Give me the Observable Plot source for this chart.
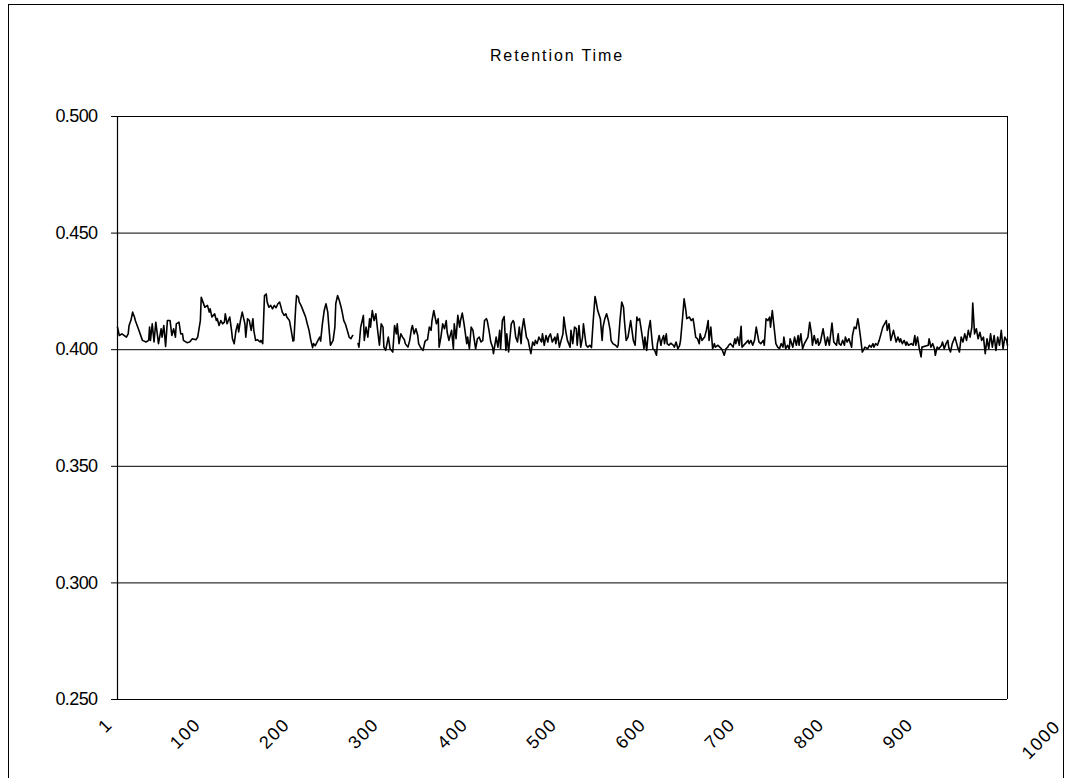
<!DOCTYPE html>
<html>
<head>
<meta charset="utf-8">
<script src="https://cdn.jsdelivr.net/npm/d3@7"></script>
<script src="https://cdn.jsdelivr.net/npm/@observablehq/plot@0.6"></script>
<style>
  html, body { margin: 0; padding: 0; background: #fff; }
  #wrap { position: relative; width: 1071px; height: 778px; overflow: hidden; font-family: "Liberation Sans", Arial, sans-serif; }
  #frame { position: absolute; left: 8px; top: 4px; width: 1056px; height: 900px; border: 1px solid #000; box-sizing: border-box; }
  #title { position: absolute; left: 0; width: 1114px; top: 47px; text-align: center; font-size: 16px; letter-spacing: 1.9px; color: #000; }
  #chart { position: absolute; left: 0; top: 0; }
  g[aria-label="x-axis tick label"] text { letter-spacing: 1.5px; }
  g[aria-label="y-axis tick label"] text { letter-spacing: -0.6px; }
</style>
</head>
<body>
<div id="wrap">
  <div id="frame"></div>
  <div id="title">Retention Time</div>
  <div id="chart"></div>
</div>
<script>
const xTicks = [1, 100, 200, 300, 400, 500, 600, 700, 800, 900];
const xLastTick = [1000];
const yTicks = [0.25, 0.30, 0.35, 0.40, 0.45, 0.50];

const sampleIndex = [
1,3,6,11,13,14,16,18,20,21,25,29,33,36,37,38,40,42,44,47,50,51,53,55,57,60,62,64,66,67,70,72,74,75,79,82,85,89,91,94,95,97,99,102,
104,105,107,110,112,113,115,117,119,121,122,124,127,129,130,132,134,136,137,139,141,144,145,147,149,151,153,154,156,158,161,162,164,166,168,169,171,173,175,177,179,181,183,184,186,188,190,191,194,196,198,199,201,202,
204,205,207,210,212,214,216,218,220,221,223,226,228,229,231,233,235,237,238,240,243,245,246,248,250,252,253,255,257,260,261,263,265,267,271,272,274,277,278,280,282,284,285,287,289,291,293,295,297,299,300,302,
305,307,310,312,314,315,317,319,321,323,324,327,329,331,332,334,336,338,339,341,344,346,347,349,351,353,354,356,359,361,362,364,366,368,370,371,373,376,378,379,381,383,385,386,388,390,393,394,396,398,400,401,403,
405,407,409,411,413,415,416,418,420,422,423,426,428,430,431,433,435,437,438,440,443,445,446,448,450,452,454,455,457,460,462,463,465,467,469,470,472,474,477,478,480,482,484,485,487,489,492,493,495,497,499,501,502,504,
506,509,510,512,514,516,517,519,521,523,524,527,529,531,533,535,537,538,540,543,545,546,548,550,552,554,555,557,560,562,563,565,567,569,570,572,574,577,578,580,582,584,585,587,589,592,593,595,597,599,601,602,604,606,
607,609,611,612,614,615,617,618,620,622,625,626,628,630,632,633,635,637,639,640,643,645,647,648,650,652,654,655,657,660,662,664,665,667,669,671,672,675,677,679,680,682,684,686,687,689,692,694,695,697,699,701,702,
709,710,712,714,716,718,720,721,723,726,727,729,731,733,734,736,738,740,742,744,746,748,749,751,753,755,756,759,761,763,765,766,768,770,772,773,776,778,780,781,783,785,787,788,790,793,795,796,798,800,802,803,805,808,
810,811,813,815,817,818,820,822,825,826,828,830,832,833,835,837,839,840,843,845,847,849,850,852,854,856,858,860,862,864,865,867,869,871,872,875,877,879,880,882,884,886,887,889,892,894,896,897,899,901,903,904,
911,912,914,916,918,919,921,923,926,927,929,931,933,934,936,938,941,942,944,946,
948,950,952,954,956,958,960,961,963,965,967,969,971,973,975,977,979,981,983,985,987,989,991,993,995,997,999,1000
];

const retention = [
.4097,.4061,.4068,.4054,.4068,.4104,.4125,.4161,.4140,.4125,.4083,.4040,.4033,.4040,.4097,.4040,.4111,.4033,.4118,.4026,.4090,.4054,.4104,.4014,.4125,.4125,.4061,.4090,.4054,.4111,.4118,.4068,.4068,.4040,.4030,.4033,.4047,.4043,.4054,.4125,.4225,.4204,.4182,.4190,
.4161,.4175,.4140,.4154,.4125,.4133,.4104,.4125,.4111,.4118,.4154,.4111,.4140,.4083,.4047,.4026,.4083,.4111,.4076,.4125,.4161,.4111,.4054,.4133,.4125,.4083,.4133,.4083,.4040,.4043,.4033,.4040,.4026,.4232,.4239,.4204,.4182,.4190,.4175,.4190,.4180,.4197,.4204,.4190,.4161,.4147,.4154,.4140,.4125,.4083,.4037,.4040,.4182,.4232,
.4225,.4204,.4190,.4161,.4142,.4111,.4083,.4040,.4009,.4026,.4017,.4040,.4054,.4037,.4111,.4168,.4197,.4161,.4111,.4019,.4040,.4097,.4197,.4232,.4211,.4182,.4165,.4125,.4108,.4068,.4054,.4047,.4061,NaN,.4026,.4011,.4097,.4147,.4040,.4097,.4054,.4133,.4097,.4168,.4125,.4154,.4083,.4019,.4111,.4097,.4011,.3997,
.4054,.4004,.3990,.4104,.4068,.4111,.4026,.4068,.4054,.4043,.4026,.4011,.4040,.4090,.4104,.4068,.4090,.4061,.4026,.4011,.3997,.4033,.4040,.4043,.4097,.4083,.4125,.4168,.4111,.4133,.4011,.4054,.4111,.4090,.4125,.4076,.4040,.4083,.4004,.4111,.4047,.4147,.4097,.4125,.4157,.4111,.4026,.4054,.4004,.4097,.4083,.4054,.4004,
.4047,.4054,.4033,.4040,.4125,.4133,.4125,.4083,.4033,.4011,.3983,.4054,.4011,.4083,.4004,.4125,.4142,.3997,.4068,.3990,.4111,.4125,.4118,.4054,.4033,.4097,.4026,.4083,.4133,.4054,.4040,.4019,.3983,.4033,.4019,.4040,.4026,.4054,.4033,.4068,.4019,.4061,.4033,.4054,.4068,.4033,.4054,.4026,.4068,.4011,.4040,.4068,.4140,.4083,
.4040,.4011,.4083,.4026,.4097,.4090,.4019,.4104,.4011,.4054,.4111,.4019,.4011,.4019,.4009,.4125,.4228,.4211,.4168,.4133,.4040,.4097,.4133,.4154,.4125,.4083,.4040,.4026,.4019,.4011,.4019,.4125,.4204,.4182,.4125,.4040,.4054,.4125,.4097,.4040,.4019,.4140,.4125,.4133,.4083,.4004,.4054,.3997,.4083,.4125,.4040,.4004,.3997,.3976,
.4026,.4061,.4019,.4040,.4061,.4026,.4068,.4026,.4019,.4028,.4019,.4011,.4033,.4004,.4019,.4040,.4125,.4218,.4168,.4133,.4140,.4125,.4133,.4111,.4054,.4047,.4026,.4068,.4040,.4054,.4083,.4125,.4040,.4097,.4004,.4026,.4011,.4019,.4011,.4004,.3997,.3976,.4004,.4011,.4019,.4026,.4011,.4047,.4026,.4054,.4019,.4100,.4011,
.4040,.4026,.4040,.4019,.4040,.4097,.4054,.4033,.4026,.4040,.4019,.4133,.4125,.4140,.4097,.4168,.4097,.4026,.4011,.4004,.4026,.4011,.4054,.4004,.4019,.4004,.4047,.4011,.4054,.4019,.4061,.4019,.4068,.4004,.4026,.4033,.4054,.4118,.4068,.4019,.4061,.4026,.4047,.4019,.4033,.4090,.4040,.4019,.4054,.4019,.4083,.4114,.4033,.4019,
.4068,.4026,.4019,.4040,.4019,.4054,.4033,.4047,.4011,.4061,.4097,.4090,.4133,.4111,.4054,.3990,.4004,.4011,.4004,.4019,.4011,.4026,.4011,.4026,.4019,.4040,.4068,.4097,.4111,.4125,.4083,.4111,.4040,.4068,.4083,.4033,.4054,.4033,.4047,.4026,.4040,.4019,.4033,.4019,.4026,.4019,.4061,.4019,.4054,.4004,.3969,.4011,
.4019,.4047,.4011,.4026,.4004,.3976,.4011,.4004,.4019,.4033,.4004,.4026,.4040,.4011,.3990,.4026,.4054,.4040,.4011,.3990,
.4054,.4033,.4068,.4040,.4083,.4054,.4097,.4200,.4068,.4090,.4047,.4075,.4040,.4054,.3983,.4047,.4004,.4068,.4011,.4061,.3997,.4054,.4019,.4083,.4004,.4054,.4040,.4019
];

const data = sampleIndex.map((x, i) => ({x, y: retention[i]}));
const fmtY = d3.format(".3f");

const chart = Plot.plot({
  width: 1071,
  height: 778,
  marginLeft: 117,
  marginRight: 64,
  marginTop: 116,
  marginBottom: 79,
  style: {fontFamily: "'Liberation Sans', Arial, sans-serif", background: "transparent", overflow: "visible"},
  x: {type: "linear", domain: [1, 1000], label: null},
  y: {domain: [0.25, 0.5], label: null},
  marks: [
    Plot.gridY(yTicks, {stroke: "#000", strokeOpacity: 1, strokeWidth: 1}),
    Plot.ruleX([1000], {stroke: "#000", strokeWidth: 1}),
    Plot.axisY(yTicks, {tickFormat: fmtY, tickSize: 6, tickPadding: 14, fontSize: 18, stroke: "#000", label: null}),
    Plot.axisX(xTicks, {tickFormat: d => String(d), tickRotate: -45, tickSize: 0, tickPadding: 14, fontSize: 18, dx: -8, dy: 8, label: null}),
    Plot.axisX(xLastTick, {tickFormat: d => String(d), tickRotate: -45, tickSize: 0, tickPadding: 14, fontSize: 18, dx: 50, dy: 10, label: null}),
    Plot.ruleX([1], {stroke: "#000", strokeWidth: 1.2}),
    Plot.ruleY([0.25], {stroke: "#000", strokeWidth: 1.2}),
    Plot.line(data, {x: "x", y: "y", stroke: "#000", strokeWidth: 1.6})
  ]
});
document.getElementById("chart").appendChild(chart);
</script>
</body>
</html>
